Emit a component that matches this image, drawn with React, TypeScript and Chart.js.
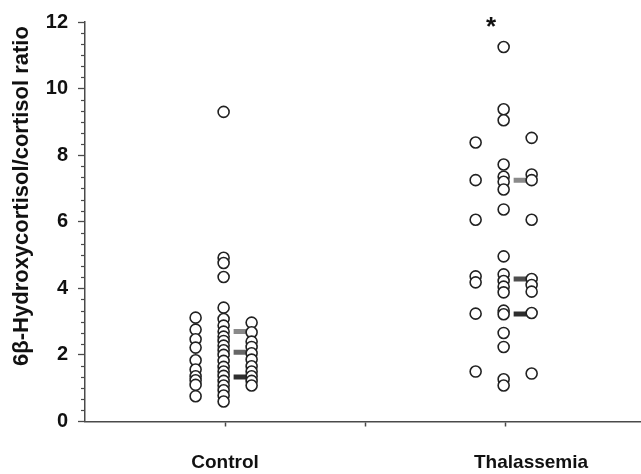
import React, { useEffect, useRef } from 'react';
import { Chart, registerables } from 'chart.js';

Chart.register(...registerables);

// ---- data ----
const categories = ['Control', '', 'Thalassemia'];
const categoryPositions = [1, 2, 3];
const yTickValues = [0, 2, 4, 6, 8, 10, 12];
const yTitle = '6β-Hydroxycortisol/cortisol ratio';

const controlLeft = [3.12, 2.76, 2.47, 2.22, 1.84, 1.56, 1.36, 1.24, 1.1, 0.76];
const controlMiddle = [9.3, 4.92, 4.76, 4.34, 3.42, 3.08, 2.88, 2.7, 2.55, 2.42, 2.28, 2.14, 2.0, 1.82, 1.64, 1.5, 1.37, 1.22, 1.08, 0.94, 0.78, 0.6];
const controlRight = [2.97, 2.68, 2.4, 2.24, 2.05, 1.86, 1.66, 1.5, 1.36, 1.22, 1.08];
const thalLeft = [8.38, 7.25, 6.06, 4.36, 4.18, 3.24, 1.5];
const thalMiddle = [11.25, 9.38, 9.05, 7.72, 7.35, 7.2, 6.97, 6.37, 4.96, 4.42, 4.22, 4.05, 3.88, 3.33, 3.22, 2.66, 2.24, 1.27, 1.08];
const thalRight = [8.52, 7.42, 7.25, 6.06, 4.28, 4.1, 3.9, 3.26, 1.44];

const upperBar = [2.7, 7.25];
const medianBar = [2.08, 4.28];
const lowerBar = [1.34, 3.23];

const significanceMarks = ['', '*'];
const significanceY = 11.95;

// ---- layout constants ----
const columnOffsets = [-0.21, -0.01, 0.19];
const barOffset = 0.115;
const groupPositions = [1, 3];
const labelShiftPx = [0, 0, 26];
const FONT = "'Liberation Sans', Arial, sans-serif";
const AXIS_COLOR = '#4a4a4a';

const pts = (vals: number[], x: number) => vals.map((v) => ({ x, y: v }));

const circleStyle = {
  pointRadius: 5.5,
  pointHoverRadius: 5.5,
  pointBorderWidth: 1.6,
  pointBorderColor: '#222222',
  pointBackgroundColor: '#ffffff',
  showLine: false,
};

const barStyle = (color: string) => ({
  pointStyle: 'line' as const,
  pointRadius: 7.5,
  pointHoverRadius: 7.5,
  pointBorderWidth: 5,
  pointBorderColor: color,
  borderColor: color,
  showLine: false,
});

const extrasPlugin = {
  id: 'extras',
  afterDraw(chart: any) {
    const { ctx, chartArea, scales } = chart;
    const x = scales.x;
    const y = scales.y;
    ctx.save();
    // minor ticks on y axis
    ctx.strokeStyle = AXIS_COLOR;
    ctx.lineWidth = 1.2;
    for (let i = 0; i <= 36; i++) {
      if (i % 6 === 0) continue;
      const py = Math.round(y.getPixelForValue(i / 3)) + 0.5;
      ctx.beginPath();
      ctx.moveTo(chartArea.left - 4, py);
      ctx.lineTo(chartArea.left, py);
      ctx.stroke();
    }
    // category labels
    ctx.fillStyle = '#111';
    ctx.font = `bold 19px ${FONT}`;
    ctx.textAlign = 'center';
    ctx.textBaseline = 'middle';
    categories.forEach((c, i) => {
      if (!c) return;
      ctx.fillText(c, x.getPixelForValue(categoryPositions[i]) + labelShiftPx[i], chartArea.bottom + 41);
    });
    // y title
    ctx.font = `bold 22px ${FONT}`;
    ctx.translate(22, 196);
    ctx.rotate(-Math.PI / 2);
    ctx.fillText(yTitle, 0, 0);
    ctx.restore();
    // significance marks
    ctx.save();
    ctx.fillStyle = '#111';
    ctx.font = `bold 26px ${FONT}`;
    ctx.textAlign = 'center';
    ctx.textBaseline = 'middle';
    significanceMarks.forEach((m, i) => {
      if (!m) return;
      ctx.fillText(m, x.getPixelForValue(groupPositions[i] - 0.1), y.getPixelForValue(significanceY) + 4);
    });
    ctx.restore();
  },
};

export default function App() {
  const ref = useRef<HTMLCanvasElement | null>(null);

  useEffect(() => {
    if (!ref.current) return;
    const groups = [
      [controlLeft, controlMiddle, controlRight],
      [thalLeft, thalMiddle, thalRight],
    ];
    const datasets: any[] = [];
    groups.forEach((cols, gi) => {
      cols.forEach((vals, ci) => {
        datasets.push({
          label: `${categories[gi * 2]} ${ci}`,
          data: pts(vals, groupPositions[gi] + columnOffsets[ci]),
          ...circleStyle,
        });
      });
    });
    datasets.push({
      label: 'upper',
      data: upperBar.map((v, i) => ({ x: groupPositions[i] + barOffset, y: v })),
      ...barStyle('#8a8a8a'),
    });
    datasets.push({
      label: 'median',
      data: medianBar.map((v, i) => ({ x: groupPositions[i] + barOffset, y: v })),
      ...barStyle('#5a5a5a'),
      pointBorderColor: ['#666666', '#4e4e4e'],
    });
    datasets.push({
      label: 'lower',
      data: lowerBar.map((v, i) => ({ x: groupPositions[i] + barOffset, y: v })),
      ...barStyle('#2e2e2e'),
    });

    const chart = new Chart(ref.current, {
      type: 'scatter',
      data: { datasets },
      options: {
        animation: false,
        responsive: true,
        maintainAspectRatio: false,
        layout: { autoPadding: false, padding: { top: 20, right: 0, left: 0, bottom: 0 } },
        plugins: { legend: { display: false }, tooltip: { enabled: false } },
        scales: {
          x: {
            type: 'linear',
            min: 0,
            max: 3.971,
            afterBuildTicks: (s: any) => {
              s.ticks = categoryPositions.map((v) => ({ value: v }));
            },
            afterFit: (s: any) => {
              s.height = 52.5;
              s.paddingLeft = 0;
              s.paddingRight = 0;
            },
            ticks: { display: false },
            grid: {
              display: true,
              drawOnChartArea: false,
              drawTicks: true,
              tickLength: 5,
              tickWidth: 1.5,
              tickColor: AXIS_COLOR,
            },
            border: { display: true, color: AXIS_COLOR, width: 1.5 },
          },
          y: {
            type: 'linear',
            min: 0,
            max: 12,
            afterBuildTicks: (s: any) => {
              s.ticks = yTickValues.map((v) => ({ value: v }));
            },
            afterFit: (s: any) => {
              s.width = 85;
            },
            ticks: {
              padding: 10,
              color: '#111',
              font: { family: FONT, size: 20, weight: 'bold' },
            },
            grid: {
              display: true,
              drawOnChartArea: false,
              drawTicks: true,
              tickLength: 7,
              tickWidth: 1.3,
              tickColor: AXIS_COLOR,
            },
            border: { display: true, color: AXIS_COLOR, width: 1.5 },
          },
        },
      },
      plugins: [extrasPlugin],
    });
    return () => chart.destroy();
  }, []);

  return (
    <div style={{ position: 'fixed', left: 0, top: 0, width: 641, height: 474, background: '#fff' }}>
      <canvas ref={ref} />
    </div>
  );
}
